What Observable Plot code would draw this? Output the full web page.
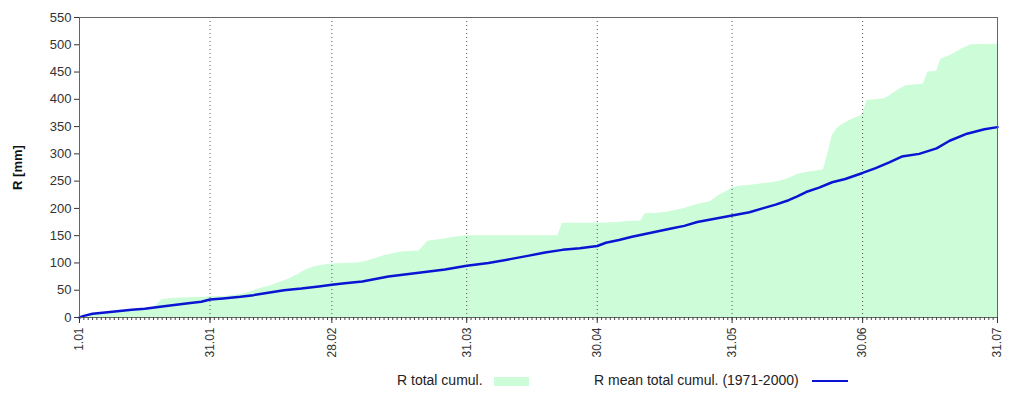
<!DOCTYPE html>
<html>
<head>
<meta charset="utf-8">
<script src="https://cdn.jsdelivr.net/npm/d3@7"></script>
<script src="https://cdn.jsdelivr.net/npm/@observablehq/plot@0.6"></script>
<style>
  body { margin: 0; background: white; font-family: "Liberation Sans", Arial, sans-serif; }
  #wrap { position: relative; width: 1023px; height: 393px; }
  #legend { position: absolute; left: 0; top: 360px; width: 1023px; height: 33px; font-size: 14px; color: #222; }
  .lt { position: absolute; top: 12px; white-space: nowrap; }
</style>
</head>
<body>
<div id="wrap">
  <div id="chart"></div>
  <div id="legend">
    <span class="lt" style="left:397px">R total cumul.</span>
    <span style="position:absolute;left:494px;top:17px;width:35px;height:9px;background:#ccfcd8"></span>
    <span class="lt" style="left:594px">R mean total cumul. (1971-2000)</span>
    <span style="position:absolute;left:812px;top:20px;width:36px;height:2px;background:#0a14d2"></span>
  </div>
</div>
<script>
// Day of year (1 = 1 Jan) and cumulative precipitation (mm)
const totalDays   = [1, 4, 10, 15, 18, 19, 20, 22, 26, 30, 31, 35, 38, 40, 42, 45, 47, 49, 51, 53, 55, 57, 59, 62, 65, 67, 69, 71, 73, 75, 77, 79, 80, 81, 83, 85, 87, 89, 90, 100, 111, 112, 120, 125, 127, 130, 131, 134, 136, 138, 140, 142, 144, 146, 147, 148, 150, 151, 153, 155, 158, 160, 162, 164, 166, 168, 170, 172, 173, 174, 175, 176, 178, 180, 181, 182, 186, 187, 189, 191, 195, 196, 198, 199, 201, 202, 204, 206, 212];
const totalValues = [0, 6, 11, 15, 18, 25, 33, 35, 36, 37, 38, 39, 42, 46, 52, 58, 64, 70, 78, 87, 93, 96, 98, 99, 100, 103, 108, 113, 117, 120, 121, 122, 130, 140, 142, 144, 147, 149, 150, 150, 150, 173, 173, 174, 176, 177, 190, 191, 193, 196, 200, 205, 209, 212, 218, 224, 232, 238, 241, 242, 245, 247, 250, 255, 262, 266, 268, 271, 300, 333, 345, 352, 361, 368, 372, 398, 401, 405, 416, 425, 428, 450, 451, 474, 480, 484, 493, 500, 501];

const meanDays   = [1, 2, 4, 8, 13, 16, 20, 26, 29, 31, 34, 38, 41, 44, 48, 52, 56, 59, 62, 66, 72, 79, 85, 90, 95, 100, 104, 108, 112, 116, 120, 122, 125, 128, 131, 134, 137, 140, 143, 147, 151, 155, 158, 161, 164, 166, 168, 171, 174, 177, 181, 184, 187, 190, 194, 198, 201, 205, 209, 212];
const meanValues = [0, 3, 7, 10, 14, 16, 20, 26, 29, 33, 35, 38, 41, 45, 50, 53, 57, 60, 63, 66, 75, 82, 88, 95, 100, 107, 113, 119, 124, 127, 131, 137, 142, 148, 153, 158, 163, 168, 175, 181, 187, 193, 200, 207, 215, 222, 230, 238, 248, 254, 265, 274, 284, 295, 300, 310, 324, 337, 345, 349];

const tickDays   = [1, 31, 59, 90, 120, 151, 181, 212];
const tickLabels = ["1.01", "31.01", "28.02", "31.03", "30.04", "31.05", "30.06", "31.07"];
const yTicks     = [0, 50, 100, 150, 200, 250, 300, 350, 400, 450, 500, 550];

const total = totalDays.map((d, i) => ({day: d, value: totalValues[i]}));
const mean  = meanDays.map((d, i) => ({day: d, value: meanValues[i]}));
const allDays = d3.range(1, 213);

const chart = Plot.plot({
  width: 1023,
  height: 360,
  marginLeft: 79,
  marginRight: 26,
  marginTop: 17,
  marginBottom: 43,
  style: {fontFamily: "'Liberation Sans', Arial, sans-serif", fontSize: "12px", color: "#333", background: "white"},
  x: {domain: [1, 212], axis: null},
  y: {domain: [0, 550], axis: null},
  marks: [
    Plot.areaY(total, {x: "day", y: "value", fill: "#ccfcd8"}),
    Plot.ruleX(tickDays, {stroke: "#555", strokeDasharray: "1,3", strokeWidth: 1}),
    Plot.lineY(mean, {x: "day", y: "value", stroke: "#0a14d2", strokeWidth: 2.5}),
    Plot.frame({stroke: "#666"}),
    Plot.axisY({ticks: yTicks, tickSize: 5, tickPadding: 3, label: null, fontSize: 13}),
    Plot.axisX({ticks: allDays, tickSize: 3, tickFormat: () => "", label: null, stroke: "#444"}),
    Plot.axisX({ticks: tickDays, tickSize: 6, tickPadding: 4, tickRotate: -90, label: null, fontSize: 12,
      tickFormat: d => tickLabels[tickDays.indexOf(d)]}),
    Plot.text(["R [mm]"], {frameAnchor: "left", dx: -62, rotate: -90, textAnchor: "middle", fontWeight: "bold", fontSize: 13, fill: "#111"})
  ]
});
document.getElementById("chart").appendChild(chart);
</script>
</body>
</html>
